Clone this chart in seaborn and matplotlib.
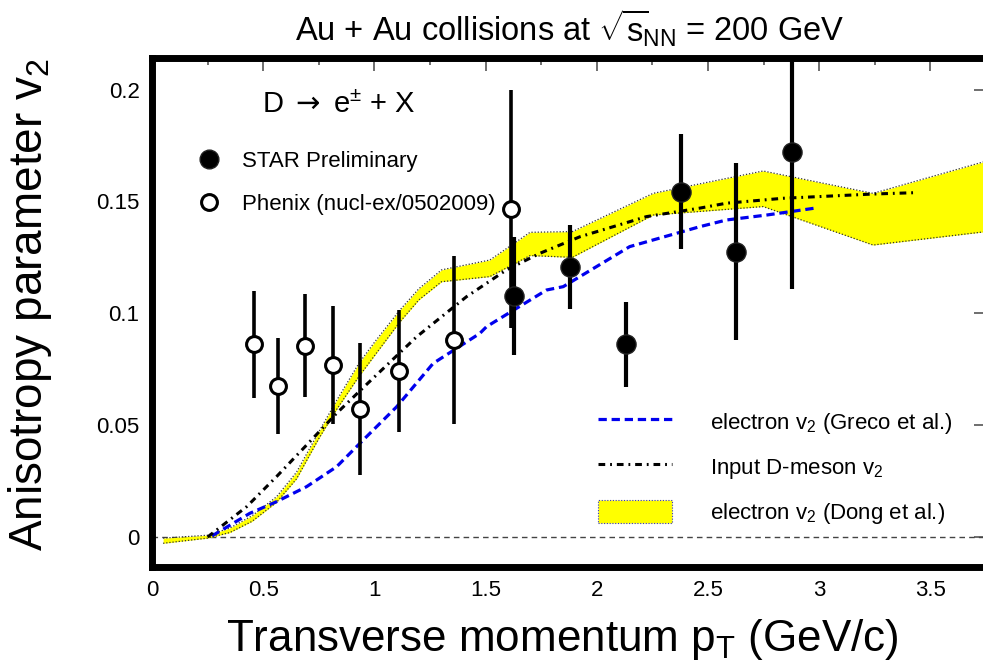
import numpy as np
import pandas as pd
import matplotlib
matplotlib.use("Agg")
import matplotlib.pyplot as plt
import seaborn as sns
from matplotlib.lines import Line2D
from matplotlib.patches import Patch
from matplotlib.ticker import MultipleLocator

# ---------------- data ----------------
star_pt = [1.628, 1.879, 2.130, 2.379, 2.628, 2.878]
star_v2 = [0.1079, 0.1208, 0.0861, 0.1544, 0.1275, 0.1720]
star_err = [0.0264, 0.0188, 0.0189, 0.0257, 0.0395, 0.0613]

phenix_pt = [0.458, 0.566, 0.688, 0.815, 0.935, 1.111, 1.359, 1.613]
phenix_v2 = [0.0861, 0.0675, 0.0856, 0.0768, 0.0571, 0.0742, 0.0880, 0.1466]
phenix_err = [0.0240, 0.0215, 0.0232, 0.0263, 0.0296, 0.0272, 0.0376, 0.0530]

greco_pt = [0.27, 0.44, 0.56, 0.695, 0.83, 0.95, 1.1, 1.264, 1.474, 1.504,
            1.774, 1.849, 2.148, 2.463, 2.583, 2.763, 2.995]
greco_v2 = [0.0005, 0.0106, 0.0158, 0.0225, 0.0314, 0.0434, 0.0582, 0.0776, 0.091, 0.094,
            0.1104, 0.1119, 0.1298, 0.1387, 0.1417, 0.1439, 0.1472]

dmeson_pt = [0.25, 0.426, 0.56, 0.695, 0.83, 0.97, 1.19, 1.414, 1.594, 1.744,
             1.924, 2.223, 2.463, 2.583, 2.837, 3.242, 3.43]
dmeson_v2 = [0.0, 0.0136, 0.027, 0.0411, 0.0553, 0.0687, 0.0895, 0.1074, 0.1194, 0.1268,
             0.1342, 0.1432, 0.147, 0.1492, 0.1514, 0.1533, 0.1539]

dong_pt = [0.05, 0.25, 0.35, 0.45, 0.56, 0.65, 0.75, 0.83, 0.93, 1.0, 1.115, 1.2, 1.302,
           1.519, 1.70, 1.89, 2.253, 2.748, 3.242, 3.75]
dong_hi = [-0.0005, 0.0008, 0.004, 0.0095, 0.018, 0.029, 0.047, 0.061, 0.0776, 0.087, 0.1015,
           0.111, 0.1194, 0.1238, 0.1362, 0.1365, 0.1536, 0.1636, 0.1536, 0.168]
dong_lo = [-0.0028, -0.0005, 0.002, 0.007, 0.0155, 0.026, 0.044, 0.057, 0.0717, 0.081, 0.0962,
           0.106, 0.1141, 0.1164, 0.1258, 0.125, 0.1439, 0.1477, 0.1305, 0.1365]

x_ticks = [0, 0.5, 1, 1.5, 2, 2.5, 3, 3.5]
x_tick_labels = ["0", "0.5", "1", "1.5", "2", "2.5", "3", "3.5"]
y_ticks = [0, 0.05, 0.1, 0.15, 0.2]
y_tick_labels = ["0", "0.05", "0.1", "0.15", "0.2"]

# ---------------- style ----------------
sns.set_theme(style="white")
plt.rcParams["font.family"] = ["Liberation Sans", "DejaVu Sans"]
plt.rcParams["mathtext.fontset"] = "custom"
plt.rcParams["mathtext.rm"] = "Liberation Sans"
plt.rcParams["mathtext.it"] = "Liberation Sans:italic"
plt.rcParams["mathtext.sf"] = "DejaVu Sans"
plt.rcParams["mathtext.default"] = "regular"
plt.rcParams["text.color"] = "black"
plt.rcParams["xtick.labelcolor"] = "black"
plt.rcParams["ytick.labelcolor"] = "black"

W, H = 983, 670
fig = plt.figure(figsize=(W / 100, H / 100), dpi=100)
ax = fig.add_axes([152 / W, 1 - 567 / H, (986 - 152) / W, (567 - 58) / H])
ax.set_xlim(0, 3.75)
ax.set_ylim(-0.0134, 0.2141)

# zero line
ax.axhline(0, color="#444444", lw=1.0, ls=(0, (4, 3)), zorder=1)

# Dong band
ax.fill_between(dong_pt, dong_lo, dong_hi, color="#ffff00", lw=0, zorder=2)
sns.lineplot(x=dong_pt, y=dong_hi, ax=ax, color="#333333", lw=0.9, ls=(0, (1, 1.5)),
             sort=False, estimator=None, zorder=3)
sns.lineplot(x=dong_pt, y=dong_lo, ax=ax, color="#333333", lw=0.9, ls=(0, (1, 1.5)),
             sort=False, estimator=None, zorder=3)

# Greco curve
sns.lineplot(x=greco_pt, y=greco_v2, ax=ax, color="#0000ee", lw=2.3, ls=(0, (2.6, 1.5)),
             sort=False, estimator=None, zorder=4)
# D-meson input
sns.lineplot(x=dmeson_pt, y=dmeson_v2, ax=ax, color="black", lw=2.2,
             ls=(0, (2.2, 1.6, 0.6, 1.6)), sort=False, estimator=None, zorder=4)

# data points
ax.errorbar(phenix_pt, phenix_v2, yerr=phenix_err, fmt="none", ecolor="black",
            elinewidth=2.6, capsize=0, zorder=5)
ax.errorbar(star_pt, star_v2, yerr=star_err, fmt="none", ecolor="black",
            elinewidth=3.0, capsize=0, zorder=5)
sns.scatterplot(x=phenix_pt, y=phenix_v2, ax=ax, marker="o", s=130, facecolor="white",
                edgecolor="black", linewidth=2.2, zorder=6)
sns.scatterplot(x=star_pt, y=star_v2, ax=ax, marker="o", s=190, facecolor="black",
                edgecolor="#222222", linewidth=1.0, zorder=6)

# axes styling
for sp in ["left", "bottom", "top", "right"]:
    ax.spines[sp].set_linewidth(5)
    ax.spines[sp].set_color("black")
ax.set_xticks(x_ticks)
ax.set_xticklabels(x_tick_labels)
ax.set_yticks(y_ticks)
ax.set_yticklabels(y_tick_labels)
ax.xaxis.set_minor_locator(MultipleLocator(0.25))
ax.tick_params(which="both", direction="in", top=True, right=True, color="#555555",
               width=1.2, labelsize=16, pad=9, labelcolor="black")
ax.tick_params(which="major", length=9)
ax.tick_params(which="minor", length=5)
ax.set_xlabel("")
ax.set_ylabel("")

# texts
fig.text(570 / W, 1 - 28 / H, r"Au + Au collisions at $\sqrt{s}\!_{NN}$ = 200 GeV",
         ha="center", va="center", fontsize=23.5, color="black")
fig.text(562 / W, 1 - 640 / H, r"Transverse momentum p$_T$ (GeV/c)",
         ha="center", va="center", fontsize=31.7, color="black")
fig.text(30 / W, 1 - 305 / H, r"Anisotropy parameter v$_2$", rotation=90,
         ha="center", va="center", fontsize=33, color="black")
ax.text((339 - 152) / 834, (567 - 105) / 509, r"D $\mathsf{\rightarrow}$ e$^{\pm}$ + X",
        transform=ax.transAxes, ha="center", va="center", fontsize=21, color="black")

# legends
h_star = Line2D([], [], ls="none", marker="o", ms=13.5, mfc="black", mec="#222222", mew=1.0)
h_phen = Line2D([], [], ls="none", marker="o", ms=11.4, mfc="white", mec="black", mew=2.2)
leg1 = ax.legend([h_star, h_phen], ["STAR Preliminary", "Phenix (nucl-ex/0502009)"],
                 loc="upper left", bbox_to_anchor=((198 - 152) / 834, (567 - 151) / 509),
                 frameon=False, fontsize=16, handlelength=1.0, handletextpad=1.0,
                 labelspacing=0.98, borderpad=0, borderaxespad=0, labelcolor="black")
ax.add_artist(leg1)

h_greco = Line2D([], [], color="#0000ee", lw=2.3, ls=(0, (2.6, 1.5)))
h_dmes = Line2D([], [], color="black", lw=2.2, ls=(0, (2.2, 1.6, 0.6, 1.6)))
h_dong = Patch(facecolor="#ffff00", edgecolor="#3333cc", lw=0.8, ls=(0, (1, 1.5)))
ax.legend([h_greco, h_dmes, h_dong],
          [r"electron v$_2$ (Greco et al.)", r"Input D-meson v$_2$",
           r"electron v$_2$ (Dong et al.)"],
          loc="upper left", bbox_to_anchor=((598 - 152) / 834, (567 - 410) / 509),
          frameon=False, fontsize=16, handlelength=3.33, handletextpad=1.7,
          handleheight=1.2, labelspacing=0.86, borderpad=0, borderaxespad=0,
          labelcolor="black")

fig.savefig("out.png", dpi=100)
